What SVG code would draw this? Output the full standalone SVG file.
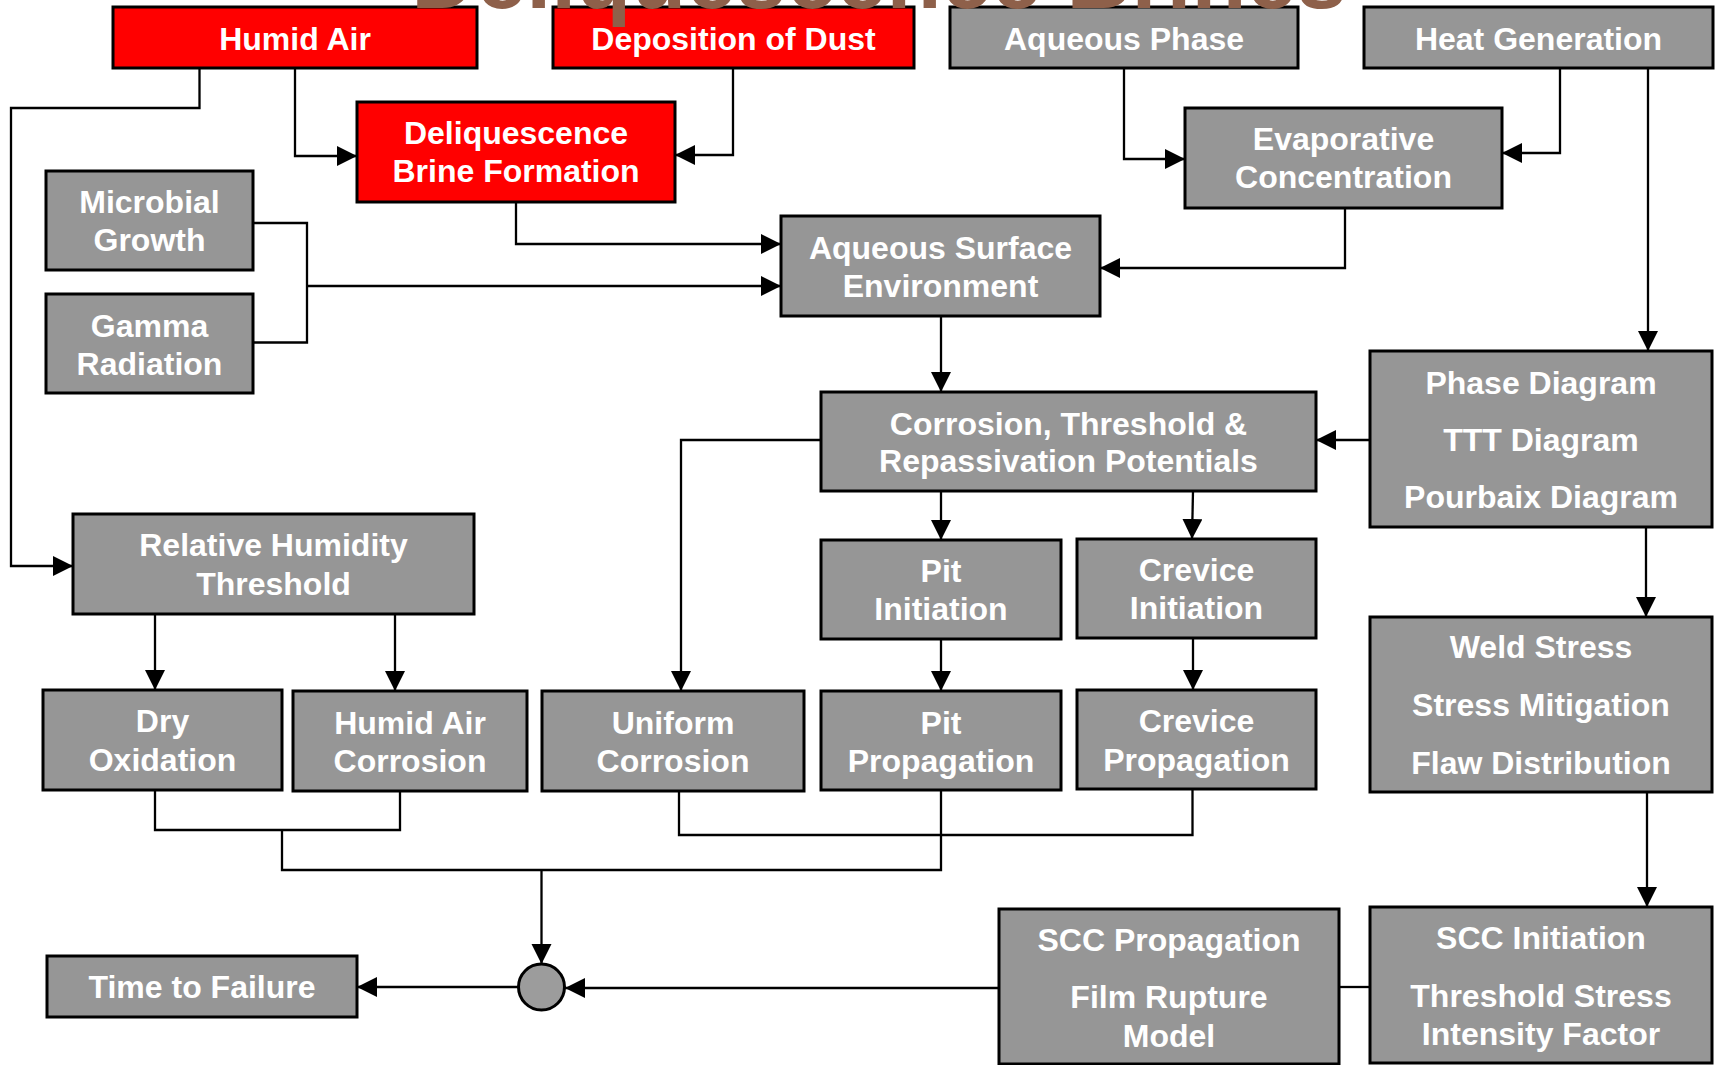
<svg xmlns="http://www.w3.org/2000/svg" width="1719" height="1065" viewBox="0 0 1719 1065">
<defs>
<style>
.red{fill:#FF0000;stroke:#000;stroke-width:3}
.gray{fill:#969696;stroke:#000;stroke-width:3}
.t{font-family:"Liberation Sans",Arial,sans-serif;font-weight:bold;font-size:32px;fill:#fff;text-anchor:middle}
.c{fill:none;stroke:#000;stroke-width:2.3}
.title{font-family:"Liberation Sans",Arial,sans-serif;font-weight:bold;font-size:90px;fill:#8E604A;text-anchor:middle}
</style>
<marker id="ah" markerUnits="userSpaceOnUse" markerWidth="21" markerHeight="21" refX="20" refY="10" orient="auto" viewBox="0 0 21 21">
<path d="M0,0 L20,10 L0,20 z" fill="#000"/>
</marker>
</defs>
<rect width="1719" height="1065" fill="#fff"/>

<g id="connectors">
<path class="c" d="M199.5,68 V108 H11 V566 H73" marker-end="url(#ah)"/>
<path class="c" d="M295,68 V156 H357" marker-end="url(#ah)"/>
<path class="c" d="M733,68 V155 H675" marker-end="url(#ah)"/>
<path class="c" d="M1124,68 V159 H1185" marker-end="url(#ah)"/>
<path class="c" d="M1560,68 V153 H1502" marker-end="url(#ah)"/>
<path class="c" d="M1648,68 V351" marker-end="url(#ah)"/>
<path class="c" d="M1345,208 V268 H1100" marker-end="url(#ah)"/>
<path class="c" d="M516,202 V244 H781" marker-end="url(#ah)"/>
<path class="c" d="M253,223 H307 V342.5 H253"/>
<path class="c" d="M307,286 H781" marker-end="url(#ah)"/>
<path class="c" d="M941,316 V392" marker-end="url(#ah)"/>
<path class="c" d="M1370,440 H1316" marker-end="url(#ah)"/>
<path class="c" d="M821,440 H681 V691" marker-end="url(#ah)"/>
<path class="c" d="M941,491 V540" marker-end="url(#ah)"/>
<path class="c" d="M1193,491 L1192,539" marker-end="url(#ah)"/>
<path class="c" d="M941,639 V691" marker-end="url(#ah)"/>
<path class="c" d="M1193,638 V690" marker-end="url(#ah)"/>
<path class="c" d="M1646,527 V617" marker-end="url(#ah)"/>
<path class="c" d="M1647,792 V907" marker-end="url(#ah)"/>
<path class="c" d="M155,614 V690" marker-end="url(#ah)"/>
<path class="c" d="M395,615 V691" marker-end="url(#ah)"/>
<path class="c" d="M155,790 V830 H400 V791"/>
<path class="c" d="M282,830 V870 H941 V790"/>
<path class="c" d="M679,791 V835 H1192.5 V789"/>
<path class="c" d="M541.5,870 V964" marker-end="url(#ah)"/>
<path class="c" d="M519,987 H357" marker-end="url(#ah)"/>
<path class="c" d="M999,988 H565" marker-end="url(#ah)"/>
<path class="c" d="M1339,987 H1370"/>
</g>

<g id="humid-air"><rect class="red" x="113" y="7" width="364" height="61"/><text class="t" x="295" y="50">Humid Air</text></g>
<g id="deposition-of-dust"><rect class="red" x="553" y="7" width="361" height="61"/><text class="t" x="733.5" y="50">Deposition of Dust</text></g>
<g id="aqueous-phase"><rect class="gray" x="950" y="7" width="348" height="61"/><text class="t" x="1124" y="50">Aqueous Phase</text></g>
<g id="heat-generation"><rect class="gray" x="1364" y="7" width="349" height="61"/><text class="t" x="1538.5" y="50">Heat Generation</text></g>
<g id="deliquescence-brine"><rect class="red" x="357" y="102" width="318" height="100"/><text class="t" x="516" y="144">Deliquescence</text><text class="t" x="516" y="181.5">Brine Formation</text></g>
<g id="evaporative-concentration"><rect class="gray" x="1185" y="108" width="317" height="100"/><text class="t" x="1343.5" y="150">Evaporative</text><text class="t" x="1343.5" y="188">Concentration</text></g>
<g id="microbial-growth"><rect class="gray" x="46" y="171" width="207" height="99"/><text class="t" x="149.5" y="213">Microbial</text><text class="t" x="149.5" y="250.5">Growth</text></g>
<g id="gamma-radiation"><rect class="gray" x="46" y="294" width="207" height="99"/><text class="t" x="149.5" y="337">Gamma</text><text class="t" x="149.5" y="375">Radiation</text></g>
<g id="aqueous-surface-environment"><rect class="gray" x="781" y="216" width="319" height="100"/><text class="t" x="940.5" y="259">Aqueous Surface</text><text class="t" x="940.5" y="297">Environment</text></g>
<g id="corrosion-potentials"><rect class="gray" x="821" y="392" width="495" height="99"/><text class="t" x="1068.5" y="434.5">Corrosion, Threshold &amp;</text><text class="t" x="1068.5" y="472">Repassivation Potentials</text></g>
<g id="phase-diagram"><rect class="gray" x="1370" y="351" width="342" height="176"/><text class="t" x="1541" y="394">Phase Diagram</text><text class="t" x="1541" y="450.5">TTT Diagram</text><text class="t" x="1541" y="508">Pourbaix Diagram</text></g>
<g id="pit-initiation"><rect class="gray" x="821" y="540" width="240" height="99"/><text class="t" x="941" y="582">Pit</text><text class="t" x="941" y="620">Initiation</text></g>
<g id="crevice-initiation"><rect class="gray" x="1077" y="539" width="239" height="99"/><text class="t" x="1196.5" y="581">Crevice</text><text class="t" x="1196.5" y="619">Initiation</text></g>
<g id="relative-humidity-threshold"><rect class="gray" x="73" y="514" width="401" height="100"/><text class="t" x="273.5" y="556">Relative Humidity</text><text class="t" x="273.5" y="595">Threshold</text></g>
<g id="weld-stress"><rect class="gray" x="1370" y="617" width="342" height="175"/><text class="t" x="1541" y="658">Weld Stress</text><text class="t" x="1541" y="715.5">Stress Mitigation</text><text class="t" x="1541" y="774">Flaw Distribution</text></g>
<g id="dry-oxidation"><rect class="gray" x="43" y="690" width="239" height="100"/><text class="t" x="162.5" y="732">Dry</text><text class="t" x="162.5" y="771">Oxidation</text></g>
<g id="humid-air-corrosion"><rect class="gray" x="293" y="691" width="234" height="100"/><text class="t" x="410" y="734">Humid Air</text><text class="t" x="410" y="772">Corrosion</text></g>
<g id="uniform-corrosion"><rect class="gray" x="542" y="691" width="262" height="100"/><text class="t" x="673" y="734">Uniform</text><text class="t" x="673" y="772">Corrosion</text></g>
<g id="pit-propagation"><rect class="gray" x="821" y="691" width="240" height="99"/><text class="t" x="941" y="733.5">Pit</text><text class="t" x="941" y="772">Propagation</text></g>
<g id="crevice-propagation"><rect class="gray" x="1077" y="690" width="239" height="99"/><text class="t" x="1196.5" y="732">Crevice</text><text class="t" x="1196.5" y="771">Propagation</text></g>
<g id="junction"><circle cx="541.5" cy="987" r="23" fill="#9C9C9C" stroke="#000" stroke-width="3"/></g>
<g id="time-to-failure"><rect class="gray" x="47" y="956" width="310" height="61"/><text class="t" x="202" y="998">Time to Failure</text></g>
<g id="scc-propagation"><rect class="gray" x="999" y="909" width="340" height="155"/><text class="t" x="1169" y="951">SCC Propagation</text><text class="t" x="1169" y="1008">Film Rupture</text><text class="t" x="1169" y="1046.5">Model</text></g>
<g id="scc-initiation"><rect class="gray" x="1370" y="907" width="342" height="156"/><text class="t" x="1541" y="949">SCC Initiation</text><text class="t" x="1541" y="1006.5">Threshold Stress</text><text class="t" x="1541" y="1045">Intensity Factor</text></g>

<text id="title" class="title" x="879" y="8">Deliquescence Brines</text>
</svg>
